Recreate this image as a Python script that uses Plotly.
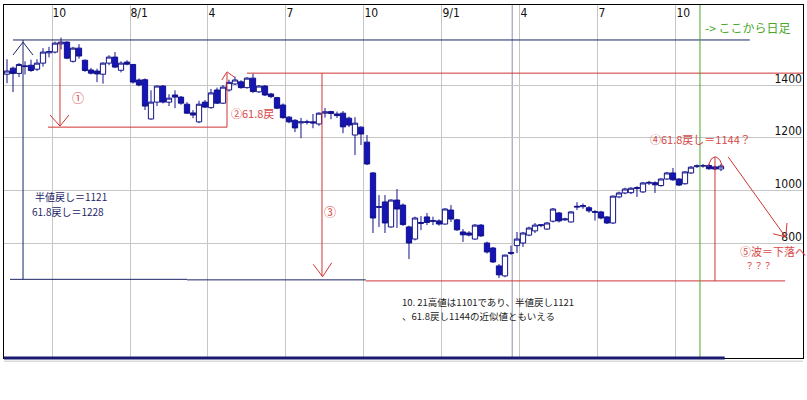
import plotly.graph_objects as go

# ---------------- data ----------------
open_ = [1441, 1464, 1444, 1470, 1475, 1460, 1483, 1522, 1525, 1556,
         1563, 1490, 1540, 1494, 1457, 1453, 1441, 1483, 1506, 1456,
         1487, 1478, 1419, 1420, 1271, 1335, 1396, 1335, 1362, 1354,
         1327, 1294, 1260, 1335, 1314, 1381, 1331, 1381, 1404, 1412,
         1390, 1426, 1374, 1396, 1366, 1352, 1324, 1278, 1266, 1256,
         1258, 1260, 1252, 1293, 1299, 1290, 1293, 1274, 1210, 1240,
         1183, 1066, 935, 956, 861, 963, 944, 861, 815, 874,
         899, 882, 884, 872, 925, 888, 842, 838, 815, 868,
         800, 781, 713, 675, 760, 790, 800, 830, 846, 866,
         853, 883, 914, 888, 880, 936, 938, 934, 916, 918,
         899, 876, 975, 990, 991, 1007, 994, 1027, 1029, 1018,
         1043, 1066, 1043, 1025, 1066, 1090, 1092, 1094, 1089, 1081]
high_ = [1498, 1470, 1483, 1490, 1496, 1498, 1540, 1545, 1565, 1580,
         1566, 1545, 1555, 1497, 1465, 1462, 1486, 1513, 1525, 1490,
         1494, 1480, 1425, 1425, 1380, 1398, 1400, 1365, 1380, 1358,
         1335, 1305, 1340, 1343, 1385, 1390, 1400, 1420, 1432, 1418,
         1430, 1443, 1400, 1400, 1370, 1355, 1330, 1282, 1270, 1275,
         1268, 1290, 1296, 1313, 1302, 1299, 1301, 1280, 1278, 1243,
         1210, 1070, 982, 982, 966, 1005, 950, 866, 900, 902,
         914, 900, 890, 932, 944, 892, 853, 845, 872, 872,
         805, 785, 720, 756, 790, 842, 842, 862, 876, 872,
         880, 933, 918, 896, 920, 955, 950, 940, 925, 922,
         902, 980, 995, 1010, 1012, 1016, 1032, 1036, 1034, 1046,
         1070, 1085, 1046, 1072, 1092, 1098, 1100, 1101, 1094, 1100]
low_ = [1407, 1373, 1430, 1440, 1450, 1453, 1470, 1505, 1520, 1535,
        1498, 1485, 1500, 1450, 1440, 1411, 1405, 1475, 1464, 1448,
        1475, 1405, 1395, 1305, 1268, 1320, 1330, 1320, 1312, 1325,
        1290, 1274, 1255, 1312, 1310, 1328, 1328, 1375, 1400, 1386,
        1386, 1370, 1370, 1358, 1350, 1308, 1272, 1255, 1221, 1198,
        1250, 1236, 1245, 1276, 1270, 1275, 1217, 1240, 1134, 1172,
        1096, 838, 861, 838, 858, 857, 865, 739, 810, 849,
        868, 868, 866, 870, 880, 846, 804, 825, 812, 823,
        760, 724, 667, 670, 755, 762, 785, 826, 838, 860,
        850, 878, 878, 884, 878, 925, 930, 915, 885, 890,
        872, 872, 970, 985, 986, 975, 990, 1020, 990, 1014,
        1040, 1036, 1016, 1022, 1062, 1085, 1086, 1078, 1076, 1073]
close_ = [1453, 1444, 1478, 1472, 1455, 1483, 1525, 1527, 1559, 1563,
          1502, 1540, 1510, 1455, 1445, 1442, 1483, 1506, 1468, 1483,
          1479, 1411, 1400, 1320, 1335, 1396, 1335, 1350, 1354, 1331,
          1293, 1286, 1327, 1316, 1370, 1331, 1392, 1410, 1419, 1390,
          1426, 1375, 1396, 1362, 1356, 1312, 1276, 1260, 1237, 1260,
          1260, 1256, 1293, 1298, 1292, 1284, 1241, 1248, 1255, 1214,
          1100, 895, 938, 876, 963, 929, 870, 800, 895, 878,
          878, 885, 872, 929, 891, 850, 831, 830, 868, 827,
          766, 728, 679, 754, 764, 815, 838, 857, 868, 869,
          876, 929, 884, 891, 918, 939, 942, 922, 919, 895,
          876, 978, 990, 1005, 1008, 1010, 1028, 1030, 1021, 1043,
          1066, 1040, 1020, 1070, 1088, 1093, 1094, 1082, 1081, 1092]
bar_index = list(range(len(open_)))

date_ticks = [7.5, 20.5, 33.5, 46.5, 59.5, 72.5, 85.5, 98.5, 111.5]
date_labels = ["10", "8/1", "4", "7", "10", "9/1", "4", "7", "10"]
price_ticks = [800, 1000, 1200, 1400]
price_labels = ["800", "1000", "1200", "1400"]

# wave levels drawn on the chart
wave_top = 1571      # start of the decline
wave1_low = 1240     # end of wave 1
wave2_top = 1445     # wave 2 rebound high
wave_bottom = 660    # end of wave 3
daily_start = 115.5  # bar where daily bars begin

# ---------------- styles ----------------
NAVY = "#1c2466"
CANDLE_LINE = "#12128a"
CANDLE_FILL = "#1414b8"
RED = "#cf3434"
RED_TXT = "#d84848"
GREEN = "#4aa82a"
GRID = "#c6c6c6"
JP = "Noto Sans CJK JP"
NUM = "Liberation Sans Narrow, DejaVu Sans Condensed, Liberation Sans"

fig = go.Figure()
fig.add_trace(go.Candlestick(
    x=bar_index, open=open_, high=high_, low=low_, close=close_,
    increasing=dict(line=dict(color=CANDLE_LINE, width=1), fillcolor="white"),
    decreasing=dict(line=dict(color=CANDLE_LINE, width=1), fillcolor=CANDLE_FILL),
    whiskerwidth=0, hoverinfo="skip", showlegend=False,
))

shapes = []
def seg(x0, y0, x1, y1, color, width=1, layer="above", xref="x", yref="y"):
    shapes.append(dict(type="line", x0=x0, y0=y0, x1=x1, y1=y1, xref=xref, yref=yref,
                       line=dict(color=color, width=width), layer=layer))
def path(d, color, width=1):
    shapes.append(dict(type="path", path=d, xref="x", yref="y",
                       line=dict(color=color, width=width)))

# darker vertical divider
seg(84.2, 0, 84.2, 1, "#8f8fb0", 1, "below", "x", "paper")

# navy: top of decline, vertical measure with arrowhead, bottom line
seg(1, wave_top, 123.8, wave_top, NAVY)
seg(2.67, wave_top, 2.67, 662, NAVY)
path("M 1 1514 L 2.67 1563 L 4.33 1514", NAVY)
seg(0.5, 662, 30, 662, NAVY)
seg(30, wave_bottom, 59.8, wave_bottom, NAVY)
seg(59.8, 656, 129.7, 656, RED)

# wave 1
seg(8.83, 1563, 8.83, 1246, RED)
path("M 7.17 1286 L 8.83 1244 L 10.33 1286", RED)
seg(6.83, wave1_low, 36.67, wave1_low, RED)
# wave 2
seg(36.67, wave1_low, 36.67, wave2_top, RED)
path("M 35.8 1419 L 36.67 1450 L 38 1428", RED)
seg(40, wave2_top, 132.67, wave2_top, RED)
# wave 3
seg(52.5, wave2_top, 52.5, 674, RED)
path("M 51.05 719 L 52.6 672 L 54.12 725", RED)
# daily start
seg(daily_start, 0, daily_start, 1, GREEN, 1, "above", "x", "paper")
# wave 4 / 5
seg(118, 1127, 118, 656, RED)
path("M 116.8 1089 L 117.4 1120 L 118.1 1128 L 118.8 1116 L 119.3 1089", RED)
seg(120.2, 1127, 129.7, 825, RED)
path("M 127.7 835 L 129.8 823 L 130 876", RED)

# frame bottom: thick navy bar, grey line under it
seg(0, 0, 0.902, 0, "#1a1a70", 3, "above", "paper", "paper")
seg(0, -0.009, 1.0, -0.009, "#c8c8c8", 1, "above", "paper", "paper")

ann = []
def txt(x, y, s, color, size=11, anchor="left", font=JP, yanchor="middle"):
    ann.append(dict(x=x, y=y, xref="x", yref="y", text=s, showarrow=False,
                    xanchor=anchor, yanchor=yanchor, align="left",
                    font=dict(family=font, size=size, color=color)))

txt(11.8, 1354, "①", RED_TXT, 12, "center")
txt(37, 1294, "②61.8戻", RED_TXT, 11)
txt(53.8, 918, "③", RED_TXT, 12, "center")
txt(4.3, 975, "半値戻し＝1121", NAVY, 10)
txt(3.8, 918, "61.8戻し＝1228", NAVY, 10)
txt(116, 1620, "-> ここから日足", GREEN, 12)
txt(106.8, 1195, "④61.8戻し＝1144？", RED_TXT, 11)
txt(121.8, 770, "⑤波＝下落へ", RED_TXT, 11)
txt(122.7, 714, "？？？", RED_TXT, 9)
txt(65.5, 576, "10. 21高値は1101であり、半値戻し1121", "#222222", 9.5)
txt(65.5, 523, "、61.8戻し1144の近似値ともいえる", "#222222", 9.5)

fig.update_layout(
    width=807, height=400,
    margin=dict(l=4, r=4, t=5, b=42),
    paper_bgcolor="white", plot_bgcolor="white",
    showlegend=False, boxgap=0.12, boxgroupgap=0,
    shapes=shapes, annotations=ann,
    xaxis=dict(range=[-0.5, 132.67], side="top", tickmode="array",
               tickvals=date_ticks, ticktext=date_labels,
               ticklabelposition="inside right", ticks="",
               showgrid=True, gridcolor=GRID, gridwidth=1, zeroline=False,
               showline=True, linecolor="black", linewidth=1, mirror=True,
               rangeslider=dict(visible=False),
               tickfont=dict(family=NUM, size=12, color="#111111")),
    yaxis=dict(range=[363.3, 1703.8], side="right", tickmode="array",
               tickvals=price_ticks, ticktext=price_labels,
               ticklabelposition="inside top", ticklabelshift=2, ticks="",
               showgrid=True, gridcolor=GRID, gridwidth=1, zeroline=False,
               showline=True, linecolor="black", linewidth=1, mirror=True,
               tickfont=dict(family=NUM, size=12, color="#111111")),
)

fig.write_html("out.html", config={"displayModeBar": False},
               post_script="document.body.style.margin='0';")
